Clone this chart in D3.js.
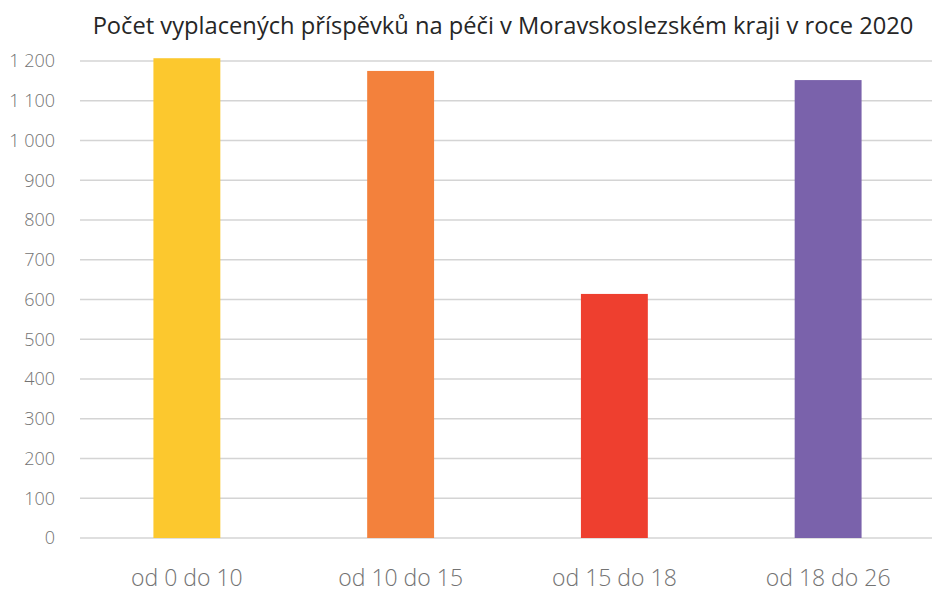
<!DOCTYPE html>
<html>
<head>
<meta charset="utf-8">
<script src="https://cdn.jsdelivr.net/npm/d3@7"></script>
<style>
  body { margin: 0; background: #fff; }
  svg { display: block; }
</style>
</head>
<body>
<svg id="chart"></svg>
<script>
// data
const categories = ["od 0 do 10", "od 10 do 15", "od 15 do 18", "od 18 do 26"];
const values = [1207, 1175, 614, 1152];
const barColors = ["#fcc82e", "#f3813c", "#ee3f2f", "#7a62ab"];
const yTicks = [0, 100, 200, 300, 400, 500, 600, 700, 800, 900, 1000, 1100, 1200];
const title = "Počet vyplacených příspěvků na péči v Moravskoslezském kraji v roce 2020";

const width = 932, height = 595;
const margins = {top: 61, bottom: 57, left: 80, right: -3};

const svg = d3.select("#chart")
  .attr("width", width)
  .attr("height", height);

const xScale = d3.scaleBand()
  .domain(categories)
  .range([margins.left, width - margins.right])
  .paddingInner(0.687)
  .paddingOuter(0.3435);

const yScale = d3.scaleLinear()
  .domain([0, 1200])
  .range([height - margins.bottom, margins.top]);

// gridlines
svg.append("g")
  .selectAll("line")
  .data(yTicks)
  .enter()
  .append("line")
  .attr("x1", margins.left)
  .attr("x2", width)
  .attr("y1", d => yScale(d))
  .attr("y2", d => yScale(d))
  .attr("stroke", "#d4d4d4")
  .attr("stroke-width", 1.5);

// y axis labels
const yAxis = svg.append("g")
  .attr("transform", `translate(${55},0)`)
  .call(d3.axisLeft(yScale).tickValues(yTicks).tickSize(0).tickPadding(0)
    .tickFormat(d => d3.format(",")(d).replace(/,/g, " ")));
yAxis.select(".domain").remove();
yAxis.selectAll("text")
  .style("font-family", "'Open Sans', sans-serif")
  .style("font-weight", 300)
  .style("font-size", "18px")
  .style("fill", "#737373");

// bars
svg.append("g")
  .selectAll("rect")
  .data(values)
  .enter()
  .append("rect")
  .attr("x", (d, i) => xScale(categories[i]))
  .attr("width", xScale.bandwidth())
  .attr("y", d => yScale(d))
  .attr("height", d => yScale(0) - yScale(d))
  .attr("fill", (d, i) => barColors[i]);

// x axis labels
const xAxis = svg.append("g")
  .attr("transform", `translate(0,${height - margins.bottom})`)
  .call(d3.axisBottom(xScale).tickSize(0).tickPadding(32));
xAxis.select(".domain").remove();
xAxis.selectAll("text")
  .style("font-family", "'Open Sans', sans-serif")
  .style("font-weight", 300)
  .style("font-size", "23px")
  .style("fill", "#737373");

// title
svg.append("text")
  .attr("x", 503)
  .attr("y", 34)
  .attr("text-anchor", "middle")
  .style("font-family", "'Open Sans', sans-serif")
  .style("font-size", "23.7px")
  .style("fill", "#262626")
  .text(title);
</script>
</body>
</html>
